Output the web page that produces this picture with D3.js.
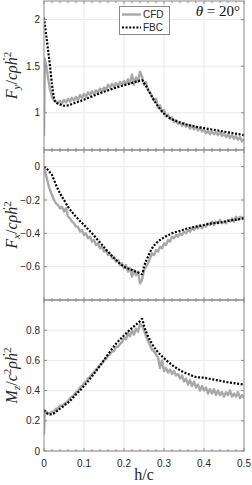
<!DOCTYPE html>
<html>
<head>
<meta charset="utf-8">
<script src="https://cdn.jsdelivr.net/npm/d3@7"></script>
<style>
  html, body { margin: 0; padding: 0; background: #fff; }
  svg { display: block; }
</style>
</head>
<body>
<div id="chart"></div>
<script>
// h/c grid of the CFD series
const hCFD = [
  0, 0.002, 0.005, 0.01, 0.015, 0.02, 0.025, 0.03, 0.035, 0.04,
  0.045, 0.05, 0.055, 0.06, 0.065, 0.07, 0.075, 0.08, 0.085, 0.09,
  0.095, 0.1, 0.105, 0.11, 0.115, 0.12, 0.125, 0.13, 0.135, 0.14,
  0.145, 0.15, 0.155, 0.16, 0.165, 0.17, 0.175, 0.18, 0.185, 0.19,
  0.195, 0.2, 0.205, 0.21, 0.215, 0.22, 0.225, 0.23, 0.235, 0.24,
  0.245, 0.25, 0.255, 0.26, 0.265, 0.27, 0.275, 0.28, 0.285, 0.29,
  0.295, 0.3, 0.305, 0.31, 0.315, 0.32, 0.325, 0.33, 0.335, 0.34,
  0.345, 0.35, 0.355, 0.36, 0.365, 0.37, 0.375, 0.38, 0.385, 0.39,
  0.395, 0.4, 0.405, 0.41, 0.415, 0.42, 0.425, 0.43, 0.435, 0.44,
  0.445, 0.45, 0.455, 0.46, 0.465, 0.47, 0.475, 0.48, 0.485, 0.49,
  0.495, 0.5
];

const cfdFy = [
  0.75, 1.58, 1.52, 1.38, 1.25, 1.17, 1.13, 1.12, 1.10, 1.13,
  1.10, 1.14, 1.11, 1.15, 1.12, 1.16, 1.13, 1.17, 1.14, 1.19,
  1.16, 1.20, 1.17, 1.22, 1.19, 1.23, 1.20, 1.24, 1.22, 1.26,
  1.23, 1.27, 1.25, 1.30, 1.27, 1.31, 1.28, 1.32, 1.29, 1.33,
  1.30, 1.34, 1.31, 1.36, 1.32, 1.41, 1.30, 1.38, 1.33, 1.44,
  1.39, 1.30, 1.33, 1.24, 1.22, 1.18, 1.13, 1.15, 1.06, 1.08,
  1.01, 1.03, 0.96, 0.98, 0.93, 0.95, 0.90, 0.92, 0.88, 0.90,
  0.86, 0.89, 0.85, 0.87, 0.83, 0.86, 0.82, 0.85, 0.81, 0.84,
  0.80, 0.82, 0.78, 0.81, 0.77, 0.80, 0.77, 0.79, 0.76, 0.79,
  0.75, 0.78, 0.74, 0.77, 0.73, 0.76, 0.72, 0.75, 0.71, 0.74,
  0.69, 0.72
];

const cfdFx = [
  0, -0.02, -0.05, -0.10, -0.14, -0.17, -0.20, -0.22, -0.23, -0.25,
  -0.24, -0.27, -0.25, -0.30, -0.31, -0.33, -0.34, -0.36, -0.36, -0.39,
  -0.38, -0.41, -0.40, -0.43, -0.42, -0.45, -0.44, -0.47, -0.46, -0.49,
  -0.48, -0.51, -0.50, -0.53, -0.52, -0.55, -0.54, -0.57, -0.56, -0.59,
  -0.58, -0.61, -0.59, -0.63, -0.61, -0.66, -0.62, -0.65, -0.63, -0.70,
  -0.68, -0.62, -0.60, -0.58, -0.55, -0.52, -0.53, -0.50, -0.51, -0.48,
  -0.49, -0.46, -0.47, -0.44, -0.45, -0.42, -0.43, -0.41, -0.42, -0.40,
  -0.41, -0.39, -0.40, -0.38, -0.39, -0.37, -0.38, -0.36, -0.37, -0.35,
  -0.37, -0.35, -0.36, -0.34, -0.35, -0.33, -0.35, -0.33, -0.34, -0.32,
  -0.34, -0.33, -0.34, -0.32, -0.33, -0.31, -0.33, -0.30, -0.32, -0.30,
  -0.31, -0.30
];

const cfdMz = [
  0.11, 0.27, 0.26, 0.25, 0.25, 0.26, 0.26, 0.28, 0.28, 0.30,
  0.30, 0.31, 0.32, 0.33, 0.35, 0.36, 0.37, 0.39, 0.40, 0.42,
  0.43, 0.45, 0.46, 0.48, 0.49, 0.51, 0.52, 0.54, 0.55, 0.57,
  0.58, 0.60, 0.61, 0.63, 0.64, 0.66, 0.66, 0.69, 0.69, 0.71,
  0.72, 0.75, 0.74, 0.78, 0.76, 0.80, 0.77, 0.81, 0.79, 0.84,
  0.83, 0.80, 0.76, 0.73, 0.70, 0.67, 0.66, 0.64, 0.62, 0.55,
  0.60, 0.53, 0.55, 0.52, 0.54, 0.51, 0.53, 0.50, 0.51, 0.48,
  0.50, 0.46, 0.48, 0.44, 0.47, 0.43, 0.46, 0.42, 0.44, 0.40,
  0.43, 0.40, 0.42, 0.38, 0.41, 0.38, 0.41, 0.37, 0.40, 0.37,
  0.39, 0.36, 0.39, 0.37, 0.40, 0.36, 0.38, 0.36, 0.39, 0.35,
  0.37, 0.35
];

// h/c grid of the FBC model
const hFBC = [
  0, 0.005, 0.01, 0.015, 0.02, 0.025, 0.03, 0.04, 0.05, 0.06,
  0.08, 0.1, 0.12, 0.14, 0.16, 0.18, 0.2, 0.22, 0.24, 0.245,
  0.25, 0.26, 0.27, 0.28, 0.29, 0.3, 0.32, 0.34, 0.36, 0.38,
  0.4, 0.42, 0.44, 0.46, 0.48, 0.5
];

const fbcFy = [
  2.02, 1.85, 1.68, 1.50, 1.30, 1.16, 1.11, 1.09, 1.075, 1.08,
  1.11, 1.14, 1.175, 1.21, 1.24, 1.27, 1.295, 1.32, 1.345, 1.35,
  1.32, 1.25, 1.17, 1.10, 1.04, 0.99, 0.93, 0.895, 0.87, 0.85,
  0.835, 0.82, 0.805, 0.79, 0.775, 0.76
];

const fbcFx = [
  0, -0.01, -0.02, -0.035, -0.05, -0.08, -0.11, -0.16, -0.20, -0.24,
  -0.30, -0.35, -0.40, -0.455, -0.51, -0.56, -0.60, -0.62, -0.64, -0.645,
  -0.60, -0.54, -0.49, -0.46, -0.44, -0.425, -0.40, -0.385, -0.37, -0.36,
  -0.35, -0.34, -0.335, -0.325, -0.318, -0.31
];

const fbcMz = [
  0.27, 0.255, 0.245, 0.242, 0.245, 0.25, 0.26, 0.28, 0.30, 0.32,
  0.375, 0.43, 0.495, 0.565, 0.64, 0.71, 0.765, 0.815, 0.86, 0.875,
  0.83, 0.76, 0.71, 0.67, 0.64, 0.615, 0.57, 0.535, 0.51, 0.49,
  0.485, 0.475, 0.465, 0.455, 0.447, 0.44
];

const xTicks = [0, 0.1, 0.2, 0.3, 0.4, 0.5];
const xTickLabels = ['0', '0.1', '0.2', '0.3', '0.4', '0.5'];
const yTicksFy = [1, 1.5, 2];
const yTicksFx = [-0.6, -0.4, -0.2, 0];
const yTicksMz = [0, 0.2, 0.4, 0.6, 0.8];
const seriesNames = ['CFD', 'FBC'];

const W = 252, H = 485;
const left = 44, right = 244;
const axisCol = '#8a8a8a';
const gridCol = '#e8e8e8';
const cfdCol = '#a8a8a8';
const mathFont = '"Liberation Serif", "Times New Roman", serif';
const sansFont = '"Liberation Sans", Arial, Helvetica, sans-serif';

const svg = d3.select('#chart').append('svg')
  .attr('width', W).attr('height', H);

const x = d3.scaleLinear().domain([0, 0.5]).range([left, right]);

const panels = [
  { id: 'fy', cfd: cfdFy, fbc: fbcFy, domain: [0.6, 2.2], ticks: yTicksFy, top: 1, bottom: 150,
    label: [['F', 'i'], ['y', 'sub'], ['/', 'r'], ['c\u03C1\u1E23', 'i'], ['2', 'sup']] },
  { id: 'fx', cfd: cfdFx, fbc: fbcFx, domain: [-0.8, 0.1], ticks: yTicksFx, top: 150, bottom: 300,
    label: [['F', 'i'], ['x', 'sub'], ['/', 'r'], ['c\u03C1\u1E23', 'i'], ['2', 'sup']] },
  { id: 'mz', cfd: cfdMz, fbc: fbcMz, domain: [0, 1], ticks: yTicksMz, top: 300, bottom: 451,
    label: [['M', 'i'], ['z', 'sub'], ['/', 'r'], ['c', 'i'], ['2', 'sup'], ['\u03C1\u1E23', 'i'], ['2', 'sup']] }
];

const minorTicks = d3.range(0, 26).map(i => i * 0.02);

panels.forEach((p, pi) => {
  const y = d3.scaleLinear().domain(p.domain).range([p.bottom, p.top]);
  const g = svg.append('g');

  // grid
  g.selectAll('line.vg').data(xTicks.slice(1, -1)).enter().append('line')
    .attr('x1', d => x(d)).attr('x2', d => x(d))
    .attr('y1', p.top).attr('y2', p.bottom)
    .attr('stroke', gridCol).attr('stroke-width', 1);
  g.selectAll('line.hg').data(p.ticks).enter().append('line')
    .attr('x1', left).attr('x2', right)
    .attr('y1', d => y(d)).attr('y2', d => y(d))
    .attr('stroke', gridCol).attr('stroke-width', 1);

  // clip
  svg.append('clipPath').attr('id', 'clip-' + p.id)
    .append('rect').attr('x', left).attr('y', p.top)
    .attr('width', right - left).attr('height', p.bottom - p.top);

  const cfdData = hCFD.map((h, i) => [h, p.cfd[i]]);
  const fbcData = hFBC.map((h, i) => [h, p.fbc[i]]);

  g.append('path').datum(cfdData)
    .attr('clip-path', `url(#clip-${p.id})`)
    .attr('fill', 'none').attr('stroke', cfdCol).attr('stroke-width', 2.4)
    .attr('stroke-linejoin', 'round')
    .attr('d', d3.line().x(d => x(d[0])).y(d => y(d[1])));

  g.append('path').datum(fbcData)
    .attr('clip-path', `url(#clip-${p.id})`)
    .attr('fill', 'none').attr('stroke', '#000').attr('stroke-width', 2.2)
    .attr('stroke-dasharray', '2 1.6')
    .attr('d', d3.line().curve(d3.curveMonotoneX).x(d => x(d[0])).y(d => y(d[1])));

  // box
  g.append('rect').attr('x', left).attr('y', p.top)
    .attr('width', right - left).attr('height', p.bottom - p.top)
    .attr('fill', 'none').attr('stroke', axisCol).attr('stroke-width', 1);

  // x ticks top and bottom (inward)
  minorTicks.forEach(v => {
    const major = Math.abs(v * 10 - Math.round(v * 10)) < 1e-6;
    const len = major ? 3 : 2;
    g.append('line').attr('x1', x(v)).attr('x2', x(v))
      .attr('y1', p.top).attr('y2', p.top + len).attr('stroke', axisCol);
    g.append('line').attr('x1', x(v)).attr('x2', x(v))
      .attr('y1', p.bottom).attr('y2', p.bottom - len).attr('stroke', axisCol);
  });
  // y ticks
  p.ticks.forEach(v => {
    g.append('line').attr('x1', left).attr('x2', left + 3)
      .attr('y1', y(v)).attr('y2', y(v)).attr('stroke', axisCol);
    g.append('line').attr('x1', right).attr('x2', right - 3)
      .attr('y1', y(v)).attr('y2', y(v)).attr('stroke', axisCol);
  });

  // y tick labels
  g.selectAll('text.yt').data(p.ticks).enter().append('text')
    .attr('x', left - 4).attr('y', d => y(d) + 3.5)
    .attr('text-anchor', 'end')
    .style('font-family', sansFont).style('font-size', '10px').style('fill', '#262626')
    .text(d => d3.format('')(d));

  // y label
  const cy = (p.top + p.bottom) / 2;
  const t = g.append('text')
    .attr('transform', `translate(17,${cy}) rotate(-90)`)
    .attr('text-anchor', 'middle')
    .style('font-family', mathFont).style('font-size', '16px').style('fill', '#262626');
  let shift = 0;
  p.label.forEach(([s, kind]) => {
    const ts = t.append('tspan').text(s);
    let target = 0;
    if (kind === 'sub') { target = 3; ts.style('font-size', '11px').style('font-style', 'italic'); }
    else if (kind === 'sup') { target = -6; ts.style('font-size', '11px'); }
    else if (kind === 'i') ts.style('font-style', 'italic');
    ts.attr('dy', target - shift);
    shift = target;
  });

  // x tick labels only on bottom panel
  if (pi === panels.length - 1) {
    g.selectAll('text.xt').data(xTicks).enter().append('text')
      .attr('x', d => x(d)).attr('y', p.bottom + 16)
      .attr('text-anchor', 'middle')
      .style('font-family', sansFont).style('font-size', '10px').style('fill', '#262626')
      .text((d, i) => xTickLabels[i]);
  }
});

// x label
svg.append('text')
  .attr('x', (left + right) / 2).attr('y', 480)
  .attr('text-anchor', 'middle')
  .style('font-family', mathFont).style('font-size', '16px').style('fill', '#262626')
  .text('h/c');

// legend
const lg = svg.append('g');
lg.append('rect').attr('x', 119.5).attr('y', 6.5).attr('width', 50).attr('height', 28)
  .attr('fill', '#fff').attr('stroke', axisCol);
lg.append('line').attr('x1', 122).attr('x2', 141).attr('y1', 14.5).attr('y2', 14.5)
  .attr('stroke', cfdCol).attr('stroke-width', 2.4);
lg.append('line').attr('x1', 122).attr('x2', 141).attr('y1', 27.5).attr('y2', 27.5)
  .attr('stroke', '#000').attr('stroke-width', 2.2).attr('stroke-dasharray', '2 1.6');
lg.selectAll('text').data(seriesNames).enter().append('text')
  .attr('x', 143).attr('y', (d, i) => 18 + i * 13)
  .style('font-family', sansFont).style('font-size', '10px').style('fill', '#262626')
  .text(d => d);

// theta annotation
const th = svg.append('text')
  .attr('x', 240).attr('y', 16).attr('text-anchor', 'end')
  .style('font-family', mathFont).style('font-size', '15px').style('fill', '#111');
th.append('tspan').style('font-style', 'italic').text('\u03B8');
th.append('tspan').text(' = 20\u00B0');
</script>
</body>
</html>
